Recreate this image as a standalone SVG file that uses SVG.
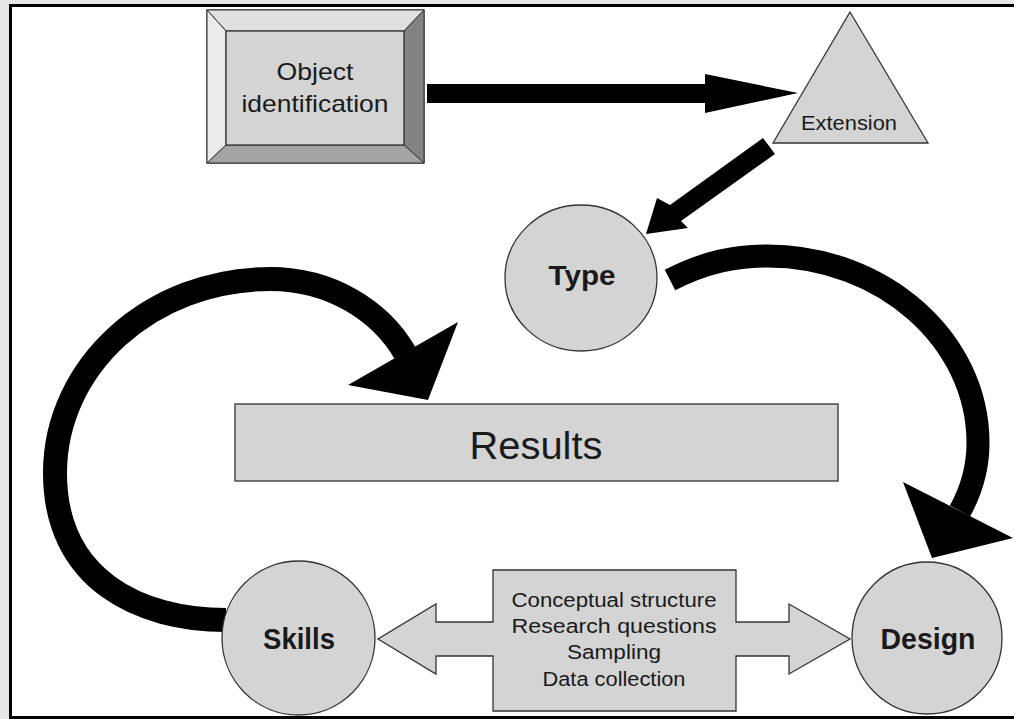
<svg xmlns="http://www.w3.org/2000/svg" width="1014" height="719" viewBox="0 0 1014 719">
<style>
  .lbl { font-family: "Liberation Sans", Arial, sans-serif; fill: #1a1a1a; text-anchor: middle; }
  .b { font-weight: bold; }
  .shape { fill: #d4d4d4; stroke: #333; stroke-width: 1.3; }
  .band { fill: none; stroke: #000; stroke-linecap: butt; }
  .head { fill: #000; stroke: none; }
</style>
<rect x="0" y="0" width="1014" height="719" fill="#e6e6e6"/>
<rect x="10.5" y="5.5" width="1010" height="712" fill="#fff" stroke="#000" stroke-width="3"/>

<g id="connectors">
  <!-- Object identification -> Extension -->
  <polygon class="head" points="427,84 705,84 705,74 798,93 705,113 705,103 427,103"/>
  <!-- Extension -> Type -->
  <polygon class="head" points="763,138 775,154 681,221 688,228 646,234 657,198 670,205"/>
  <!-- Type -> Design -->
  <path class="band" stroke-width="23" d="M 670,280 C 705,262 735,256 767,256 C 883,256 978,340 978,443 C 978,470 971,491 960,511"/>
  <polygon class="head" points="903,482 1013,538 932,558"/>
  <!-- Skills -> Results -->
  <path class="band" stroke-width="24" d="M 226,620 C 140,620 55,580 55,473 C 55,366 151,279 270,279 C 330,279 380,310 405,353"/>
  <polygon class="head" points="348,385 458,322 428,400"/>
</g>

<g id="object-identification">
  <rect x="207" y="10" width="217" height="153" fill="#d4d4d4" stroke="#333" stroke-width="1.3"/>
  <polygon points="207,10 424,10 404,31 226,31" fill="#e0e0e0" stroke="#333" stroke-width="1"/>
  <polygon points="207,10 226,31 226,145 207,163" fill="#ebebeb" stroke="#333" stroke-width="1"/>
  <polygon points="424,10 424,163 404,145 404,31" fill="#838383" stroke="#333" stroke-width="1"/>
  <polygon points="207,163 424,163 404,145 226,145" fill="#a4a4a4" stroke="#333" stroke-width="1"/>
  <rect x="226" y="31" width="178" height="114" fill="#d4d4d4" stroke="#333" stroke-width="1.3"/>
  <text class="lbl" x="315" y="80" font-size="24" textLength="77" lengthAdjust="spacingAndGlyphs">Object</text>
  <text class="lbl" x="315" y="112" font-size="24" textLength="147" lengthAdjust="spacingAndGlyphs">identification</text>
</g>

<g id="extension">
  <polygon class="shape" points="850,12 928,143 773,143"/>
  <text class="lbl" x="849" y="130" font-size="21" textLength="96" lengthAdjust="spacingAndGlyphs">Extension</text>
</g>

<g id="type">
  <ellipse class="shape" cx="581" cy="278" rx="76" ry="73"/>
  <text class="lbl b" x="582" y="285" font-size="28" textLength="67" lengthAdjust="spacingAndGlyphs">Type</text>
</g>

<g id="results">
  <rect class="shape" x="235" y="404" width="603" height="77"/>
  <text class="lbl" x="536" y="459" font-size="38" textLength="133" lengthAdjust="spacingAndGlyphs">Results</text>
</g>

<g id="skills">
  <ellipse class="shape" cx="298.5" cy="638" rx="76.5" ry="77"/>
  <text class="lbl b" x="299" y="649" font-size="29" textLength="72" lengthAdjust="spacingAndGlyphs">Skills</text>
</g>

<g id="design">
  <ellipse class="shape" cx="927" cy="638" rx="75" ry="76"/>
  <text class="lbl b" x="928" y="649" font-size="29" textLength="95" lengthAdjust="spacingAndGlyphs">Design</text>
</g>

<g id="method">
  <polygon class="shape" points="493,570 736,570 736,622 789,622 789,604 850,639 789,674 789,656 736,656 736,711 493,711 493,656 436,656 436,674 378,639 436,604 436,622 493,622"/>
  <text class="lbl" x="614" y="607" font-size="20" textLength="205" lengthAdjust="spacingAndGlyphs">Conceptual structure</text>
  <text class="lbl" x="614" y="633" font-size="20" textLength="205" lengthAdjust="spacingAndGlyphs">Research questions</text>
  <text class="lbl" x="614" y="659" font-size="20" textLength="94" lengthAdjust="spacingAndGlyphs">Sampling</text>
  <text class="lbl" x="614" y="686" font-size="20" textLength="143" lengthAdjust="spacingAndGlyphs">Data collection</text>
</g>
</svg>
